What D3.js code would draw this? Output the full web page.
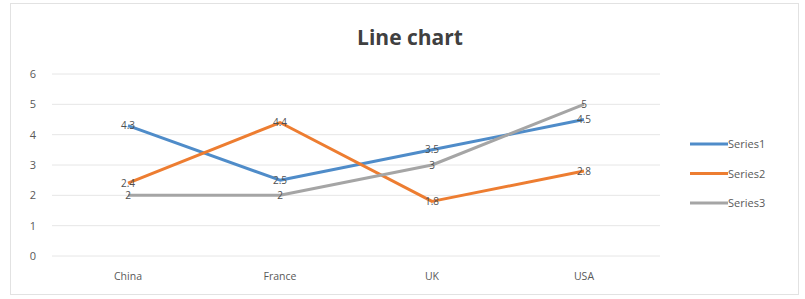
<!DOCTYPE html>
<html lang="en">
<head>
  <meta charset="UTF-8">
  <title>Line chart</title>
  <script src="https://d3js.org/d3.v7.min.js"></script>
  <style>
    body { margin: 0; background: #fff; }
    text { font-family: "Open Sans", "Liberation Sans", sans-serif; }
  </style>
</head>
<body>
<svg width="805" height="299"></svg>
<script>
  // data
  var categories = ["China", "France", "UK", "USA"];
  var seriesNames = ["Series1", "Series2", "Series3"];
  var series1 = [4.3, 2.5, 3.5, 4.5];
  var series2 = [2.4, 4.4, 1.8, 2.8];
  var series3 = [2, 2, 3, 5];
  var yTicks = [0, 1, 2, 3, 4, 5, 6];
  var colors = ["#4f8cc9", "#ed7d31", "#a5a5a5"];

  var allSeries = [series1, series2, series3];

  var svg = d3.select("svg");

  // outer border
  svg.append("rect")
    .attr("x", 10.5).attr("y", 3.5)
    .attr("width", 788).attr("height", 291)
    .attr("fill", "#fff")
    .attr("stroke", "#e2e2e2");

  // plot area (window.top is reserved, so use other names)
  var plotLeft = 52, plotRight = 660, plotTop = 74, plotBottom = 256;

  var x = d3.scaleBand().domain(categories).range([plotLeft, plotRight]);
  var y = d3.scaleLinear().domain([0, 6]).range([plotBottom, plotTop]);

  // title
  svg.append("text")
    .attr("x", 410).attr("y", 45)
    .attr("text-anchor", "middle")
    .attr("font-size", 21)
    .attr("font-weight", "bold")
    .attr("fill", "#404040")
    .text("Line chart");

  // grid lines
  svg.append("g").selectAll("line")
    .data(yTicks)
    .enter().append("line")
    .attr("x1", plotLeft).attr("x2", plotRight)
    .attr("y1", function (d) { return y(d); })
    .attr("y2", function (d) { return y(d); })
    .attr("stroke", "#e6e6e6")
    .attr("stroke-width", 1);

  // y axis labels
  svg.append("g").selectAll("text")
    .data(yTicks)
    .enter().append("text")
    .attr("x", 33)
    .attr("y", function (d) { return y(d) + 4; })
    .attr("text-anchor", "middle")
    .attr("font-size", 11)
    .attr("fill", "#595959")
    .text(function (d) { return d; });

  // x axis labels
  svg.append("g").selectAll("text")
    .data(categories)
    .enter().append("text")
    .attr("x", function (d) { return x(d) + x.bandwidth() / 2; })
    .attr("y", 280)
    .attr("text-anchor", "middle")
    .attr("font-size", 10.5)
    .attr("fill", "#595959")
    .text(function (d) { return d; });

  var line = d3.line()
    .x(function (d, i) { return x(categories[i]) + x.bandwidth() / 2; })
    .y(function (d) { return y(d); });

  // lines
  svg.append("g").selectAll("path")
    .data(allSeries)
    .enter().append("path")
    .attr("d", line)
    .attr("fill", "none")
    .attr("stroke", function (d, i) { return colors[i]; })
    .attr("stroke-width", 3)
    .attr("stroke-linejoin", "round");

  // data labels, centred on the points
  allSeries.forEach(function (s) {
    svg.append("g").selectAll("text")
      .data(s)
      .enter().append("text")
      .attr("x", function (d, i) { return x(categories[i]) + x.bandwidth() / 2; })
      .attr("y", function (d) { return y(d) + 3.5; })
      .attr("text-anchor", "middle")
      .attr("font-size", 10)
      .attr("fill", "#505050")
      .text(function (d) { return d; });
  });

  // legend
  var legend = svg.append("g").selectAll("g")
    .data(seriesNames)
    .enter().append("g")
    .attr("transform", function (d, i) { return "translate(690," + (144 + i * 29.5) + ")"; });

  legend.append("line")
    .attr("x1", 0).attr("x2", 38)
    .attr("stroke", function (d, i) { return colors[i]; })
    .attr("stroke-width", 3);

  legend.append("text")
    .attr("x", 38).attr("y", 4)
    .attr("font-size", 11)
    .attr("fill", "#595959")
    .text(function (d) { return d; });
</script>
</body>
</html>
